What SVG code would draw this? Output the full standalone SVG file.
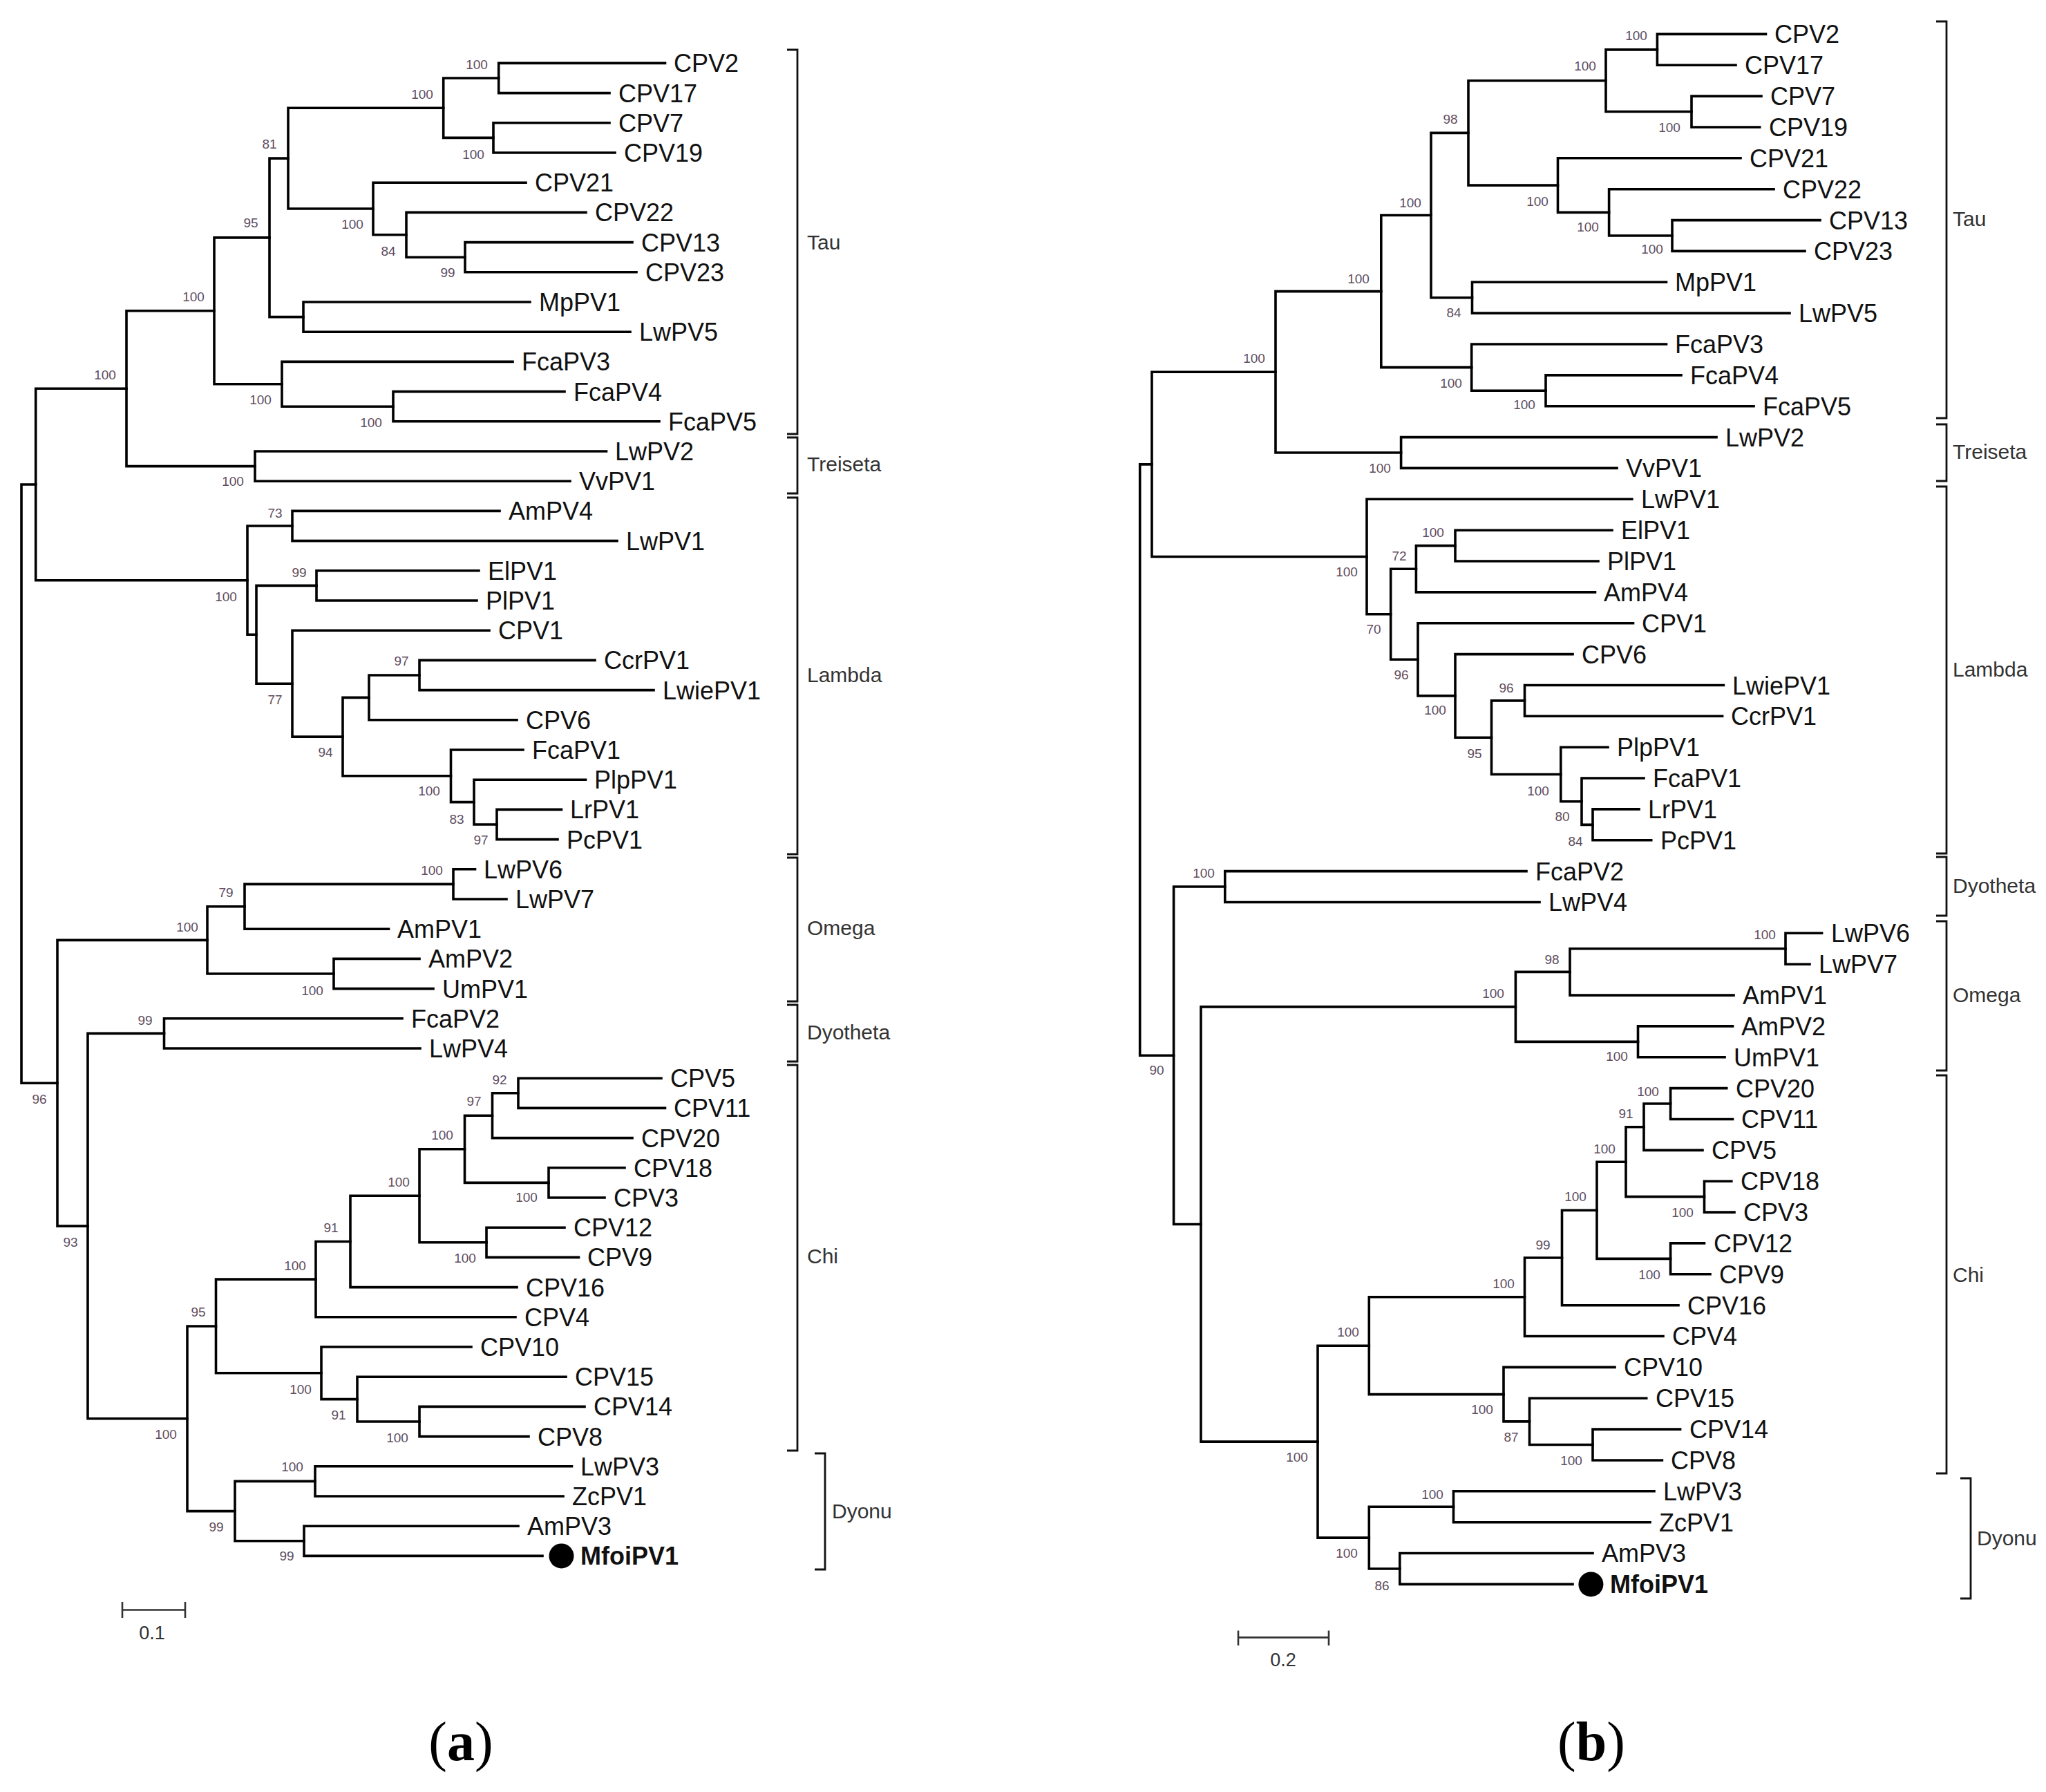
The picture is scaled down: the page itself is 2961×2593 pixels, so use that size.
<svg xmlns="http://www.w3.org/2000/svg" width="2961" height="2593" viewBox="0 0 2961 2593">
<style>
.br{fill:none;stroke:#000;stroke-width:3.6;stroke-linejoin:miter;stroke-linecap:square}
.bk{fill:none;stroke:#111;stroke-width:2.8}
.sb{fill:none;stroke:#333;stroke-width:2.6}
.lf{font-family:"Liberation Sans",Arial,sans-serif;font-size:36px;fill:#111}
.lfb{font-family:"Liberation Sans",Arial,sans-serif;font-size:36px;fill:#111;font-weight:bold}
.bs{font-family:"Liberation Sans",Arial,sans-serif;font-size:19px;fill:#5e4d5e;text-anchor:middle}
.cl{font-family:"Liberation Sans",Arial,sans-serif;font-size:30px;fill:#333}
.sc{font-family:"Liberation Sans",Arial,sans-serif;font-size:27px;fill:#333;text-anchor:middle}
.fig{font-family:"Liberation Serif","Times New Roman",serif;font-size:80px;fill:#000;text-anchor:middle}
</style>
<rect width="2961" height="2593" fill="#fff"/>

<!-- ===================== TREE (a) ===================== -->
<g id="tree-a-connectors">
<path class="br" d="M962.5 91.4 H721.7 V134.6 H882"/>
<path class="br" d="M882 177.8 H714 V221 H890"/>
<path class="br" d="M721.7 113 H641.7 V199.4 H714"/>
<path class="br" d="M915 350.6 H673 V393.8 H921"/>
<path class="br" d="M848 307.4 H588 V372.2 H673"/>
<path class="br" d="M761 264.2 H540 V339.8 H588"/>
<path class="br" d="M641.7 156.2 H417 V302 H540"/>
<path class="br" d="M767 437 H439 V480.2 H912"/>
<path class="br" d="M417 229.1 H390 V458.6 H439"/>
<path class="br" d="M817 566.6 H569 V609.8 H954"/>
<path class="br" d="M742 523.4 H408 V588.2 H569"/>
<path class="br" d="M390 343.85 H310 V555.8 H408"/>
<path class="br" d="M877.5 653 H369 V696.2 H825"/>
<path class="br" d="M310 449.8 H183 V674.6 H369"/>
<path class="br" d="M723 739.4 H423 V782.6 H893"/>
<path class="br" d="M693 825.8 H458 V869 H690"/>
<path class="br" d="M861 955.4 H607 V998.6 H946"/>
<path class="br" d="M607 977 H534 V1041.8 H748"/>
<path class="br" d="M812.5 1171.4 H719 V1214.6 H807"/>
<path class="br" d="M847.5 1128.2 H686 V1193 H719"/>
<path class="br" d="M757 1085 H652.5 V1160.6 H686"/>
<path class="br" d="M534 1009.4 H496 V1122.8 H652.5"/>
<path class="br" d="M708 912.2 H423 V1066.1 H496"/>
<path class="br" d="M458 847.4 H371 V989.2 H423"/>
<path class="br" d="M423 761 H358 V918.3 H371"/>
<path class="br" d="M183 562.2 H51.7 V839.7 H358"/>
<path class="br" d="M687.5 1257.8 H656 V1301 H733"/>
<path class="br" d="M656 1279.4 H354 V1344.2 H562.5"/>
<path class="br" d="M607 1387.4 H483 V1430.6 H627"/>
<path class="br" d="M354 1311.8 H300 V1409 H483"/>
<path class="br" d="M582 1473.8 H237.5 V1517 H608"/>
<path class="br" d="M957 1560.2 H750 V1603.4 H962.5"/>
<path class="br" d="M750 1581.8 H712.5 V1646.6 H915"/>
<path class="br" d="M904 1689.8 H794 V1733 H875"/>
<path class="br" d="M712.5 1614.2 H672.5 V1711.4 H794"/>
<path class="br" d="M817 1776.2 H704 V1819.4 H837.5"/>
<path class="br" d="M672.5 1662.8 H607 V1797.8 H704"/>
<path class="br" d="M607 1730.3 H507 V1862.6 H748"/>
<path class="br" d="M507 1796.45 H457 V1905.8 H746"/>
<path class="br" d="M846 2035.4 H607 V2078.6 H765"/>
<path class="br" d="M819 1992.2 H517 V2057 H607"/>
<path class="br" d="M682 1949 H465 V2024.6 H517"/>
<path class="br" d="M457 1851.1 H312.5 V1986.8 H465"/>
<path class="br" d="M827.5 2121.8 H456 V2165 H815"/>
<path class="br" d="M750 2208.2 H440 V2251.4 H785"/>
<path class="br" d="M456 2143.4 H340 V2229.8 H440"/>
<path class="br" d="M312.5 1919 H271 V2186.6 H340"/>
<path class="br" d="M237.5 1495.4 H127 V2052.8 H271"/>
<path class="br" d="M300 1360.4 H83 V1774.1 H127"/>
<path class="br" d="M51.7 701 H31 V1567.3 H83"/>
</g>

<g id="tree-a-leaves">
<g id="a-CPV2"><text class="lf" x="975" y="104">CPV2</text></g>
<g id="a-CPV17"><text class="lf" x="895" y="148">CPV17</text></g>
<g id="a-CPV7"><text class="lf" x="895" y="191">CPV7</text></g>
<g id="a-CPV19"><text class="lf" x="903" y="234">CPV19</text></g>
<g id="a-CPV21"><text class="lf" x="774" y="277">CPV21</text></g>
<g id="a-CPV22"><text class="lf" x="861" y="320">CPV22</text></g>
<g id="a-CPV13"><text class="lf" x="928" y="364">CPV13</text></g>
<g id="a-CPV23"><text class="lf" x="934" y="407">CPV23</text></g>
<g id="a-MpPV1"><text class="lf" x="780" y="450">MpPV1</text></g>
<g id="a-LwPV5"><text class="lf" x="925" y="493">LwPV5</text></g>
<g id="a-FcaPV3"><text class="lf" x="755" y="536">FcaPV3</text></g>
<g id="a-FcaPV4"><text class="lf" x="830" y="580">FcaPV4</text></g>
<g id="a-FcaPV5"><text class="lf" x="967" y="623">FcaPV5</text></g>
<g id="a-LwPV2"><text class="lf" x="890" y="666">LwPV2</text></g>
<g id="a-VvPV1"><text class="lf" x="838" y="709">VvPV1</text></g>
<g id="a-AmPV4"><text class="lf" x="736" y="752">AmPV4</text></g>
<g id="a-LwPV1"><text class="lf" x="906" y="796">LwPV1</text></g>
<g id="a-ElPV1"><text class="lf" x="706" y="839">ElPV1</text></g>
<g id="a-PlPV1"><text class="lf" x="703" y="882">PlPV1</text></g>
<g id="a-CPV1"><text class="lf" x="721" y="925">CPV1</text></g>
<g id="a-CcrPV1"><text class="lf" x="874" y="968">CcrPV1</text></g>
<g id="a-LwiePV1"><text class="lf" x="959" y="1012">LwiePV1</text></g>
<g id="a-CPV6"><text class="lf" x="761" y="1055">CPV6</text></g>
<g id="a-FcaPV1"><text class="lf" x="770" y="1098">FcaPV1</text></g>
<g id="a-PlpPV1"><text class="lf" x="860" y="1141">PlpPV1</text></g>
<g id="a-LrPV1"><text class="lf" x="825" y="1184">LrPV1</text></g>
<g id="a-PcPV1"><text class="lf" x="820" y="1228">PcPV1</text></g>
<g id="a-LwPV6"><text class="lf" x="700" y="1271">LwPV6</text></g>
<g id="a-LwPV7"><text class="lf" x="746" y="1314">LwPV7</text></g>
<g id="a-AmPV1"><text class="lf" x="575" y="1357">AmPV1</text></g>
<g id="a-AmPV2"><text class="lf" x="620" y="1400">AmPV2</text></g>
<g id="a-UmPV1"><text class="lf" x="640" y="1444">UmPV1</text></g>
<g id="a-FcaPV2"><text class="lf" x="595" y="1487">FcaPV2</text></g>
<g id="a-LwPV4"><text class="lf" x="621" y="1530">LwPV4</text></g>
<g id="a-CPV5"><text class="lf" x="970" y="1573">CPV5</text></g>
<g id="a-CPV11"><text class="lf" x="975" y="1616">CPV11</text></g>
<g id="a-CPV20"><text class="lf" x="928" y="1660">CPV20</text></g>
<g id="a-CPV18"><text class="lf" x="917" y="1703">CPV18</text></g>
<g id="a-CPV3"><text class="lf" x="888" y="1746">CPV3</text></g>
<g id="a-CPV12"><text class="lf" x="830" y="1789">CPV12</text></g>
<g id="a-CPV9"><text class="lf" x="850" y="1832">CPV9</text></g>
<g id="a-CPV16"><text class="lf" x="761" y="1876">CPV16</text></g>
<g id="a-CPV4"><text class="lf" x="759" y="1919">CPV4</text></g>
<g id="a-CPV10"><text class="lf" x="695" y="1962">CPV10</text></g>
<g id="a-CPV15"><text class="lf" x="832" y="2005">CPV15</text></g>
<g id="a-CPV14"><text class="lf" x="859" y="2048">CPV14</text></g>
<g id="a-CPV8"><text class="lf" x="778" y="2092">CPV8</text></g>
<g id="a-LwPV3"><text class="lf" x="840" y="2135">LwPV3</text></g>
<g id="a-ZcPV1"><text class="lf" x="828" y="2178">ZcPV1</text></g>
<g id="a-AmPV3"><text class="lf" x="763" y="2221">AmPV3</text></g>
<g id="a-MfoiPV1"><circle cx="812.5" cy="2251.4" r="18" fill="#000"/><text class="lfb" x="840" y="2264">MfoiPV1</text></g>
</g>

<g id="tree-a-bootstrap">
<text class="bs" x="690" y="100">100</text>
<text class="bs" x="685" y="230">100</text>
<text class="bs" x="611" y="143">100</text>
<text class="bs" x="648" y="401">99</text>
<text class="bs" x="562" y="370">84</text>
<text class="bs" x="510" y="331">100</text>
<text class="bs" x="390" y="215">81</text>
<text class="bs" x="363" y="329">95</text>
<text class="bs" x="537" y="618">100</text>
<text class="bs" x="377" y="585">100</text>
<text class="bs" x="280" y="436">100</text>
<text class="bs" x="152" y="549">100</text>
<text class="bs" x="337" y="703">100</text>
<text class="bs" x="398" y="749">73</text>
<text class="bs" x="433" y="835">99</text>
<text class="bs" x="327" y="870">100</text>
<text class="bs" x="398" y="1019">77</text>
<text class="bs" x="581" y="963">97</text>
<text class="bs" x="471" y="1095">94</text>
<text class="bs" x="621" y="1151">100</text>
<text class="bs" x="661" y="1192">83</text>
<text class="bs" x="696" y="1222">97</text>
<text class="bs" x="625" y="1266">100</text>
<text class="bs" x="327" y="1298">79</text>
<text class="bs" x="452" y="1440">100</text>
<text class="bs" x="271" y="1348">100</text>
<text class="bs" x="210" y="1483">99</text>
<text class="bs" x="57" y="1597">96</text>
<text class="bs" x="102" y="1804">93</text>
<text class="bs" x="723" y="1569">92</text>
<text class="bs" x="686" y="1600">97</text>
<text class="bs" x="640" y="1649">100</text>
<text class="bs" x="762" y="1739">100</text>
<text class="bs" x="577" y="1717">100</text>
<text class="bs" x="673" y="1827">100</text>
<text class="bs" x="479" y="1783">91</text>
<text class="bs" x="427" y="1838">100</text>
<text class="bs" x="287" y="1905">95</text>
<text class="bs" x="435" y="2017">100</text>
<text class="bs" x="490" y="2054">91</text>
<text class="bs" x="575" y="2087">100</text>
<text class="bs" x="240" y="2082">100</text>
<text class="bs" x="423" y="2129">100</text>
<text class="bs" x="313" y="2216">99</text>
<text class="bs" x="415" y="2258">99</text>
</g>

<g id="tree-a-clades">
<g id="a-Tau"><path class="bk" d="M1139 72 H1154 V628 H1139"/><text class="cl" x="1168" y="361">Tau</text></g>
<g id="a-Treiseta"><path class="bk" d="M1139 633 H1154 V714 H1139"/><text class="cl" x="1168" y="682">Treiseta</text></g>
<g id="a-Lambda"><path class="bk" d="M1139 720 H1154 V1236 H1139"/><text class="cl" x="1168" y="987">Lambda</text></g>
<g id="a-Omega"><path class="bk" d="M1139 1241 H1154 V1449 H1139"/><text class="cl" x="1168" y="1353">Omega</text></g>
<g id="a-Dyotheta"><path class="bk" d="M1139 1454 H1154 V1536 H1139"/><text class="cl" x="1168" y="1504">Dyotheta</text></g>
<g id="a-Chi"><path class="bk" d="M1139 1541 H1154 V2099 H1139"/><text class="cl" x="1168" y="1828">Chi</text></g>
<g id="a-Dyonu"><path class="bk" d="M1179 2103 H1194 V2271 H1179"/><text class="cl" x="1204" y="2197">Dyonu</text></g>
</g>

<g id="a-scale">
<path class="sb" d="M177 2329.5 H268 M177 2318 V2341 M268 2318 V2341"/>
<text class="sc" x="220" y="2372">0.1</text>
</g>
<text class="fig" x="667" y="2547">(<tspan font-weight="bold">a</tspan>)</text>

<!-- ===================== TREE (b) ===================== -->
<g id="tree-b-connectors">
<path class="br" d="M2555.5 49.4 H2398.4 V94.3 H2512"/>
<path class="br" d="M2549 139.1 H2448 V184 H2546.7"/>
<path class="br" d="M2398.4 71.85 H2324 V161.55 H2448"/>
<path class="br" d="M2634 318.6 H2420 V363.4 H2612"/>
<path class="br" d="M2567 273.7 H2328.6 V341 H2420"/>
<path class="br" d="M2519 228.8 H2254.5 V307.35 H2328.6"/>
<path class="br" d="M2324 116.7 H2125 V268.1 H2254.5"/>
<path class="br" d="M2411.5 408.3 H2130.5 V453.1 H2590"/>
<path class="br" d="M2125 192.4 H2071 V430.7 H2130.5"/>
<path class="br" d="M2433 542.9 H2237 V587.7 H2538"/>
<path class="br" d="M2411.5 498 H2129.7 V565.3 H2237"/>
<path class="br" d="M2071 311.55 H1998.8 V531.65 H2129.7"/>
<path class="br" d="M2484 632.6 H2027.6 V677.4 H2340"/>
<path class="br" d="M1998.8 421.6 H1846 V655 H2027.6"/>
<path class="br" d="M2333 767.2 H2106 V812 H2313"/>
<path class="br" d="M2106 789.6 H2049.4 V856.9 H2308.5"/>
<path class="br" d="M2494.4 991.5 H2206.5 V1036.3 H2492.6"/>
<path class="br" d="M2372 1170.9 H2305 V1215.8 H2389.7"/>
<path class="br" d="M2379 1126 H2289 V1193.35 H2305"/>
<path class="br" d="M2327 1081.2 H2258.8 V1159.7 H2289"/>
<path class="br" d="M2206.5 1013.9 H2158.5 V1120.45 H2258.8"/>
<path class="br" d="M2276 946.6 H2106 V1067.2 H2158.5"/>
<path class="br" d="M2363.5 901.7 H2052 V1006.9 H2106"/>
<path class="br" d="M2049.4 823.25 H2012.7 V954.3 H2052"/>
<path class="br" d="M2361.8 722.3 H1978 V888.8 H2012.7"/>
<path class="br" d="M1846 538.3 H1667 V805.55 H1978"/>
<path class="br" d="M2209 1260.6 H1772.8 V1305.5 H2228"/>
<path class="br" d="M2636.6 1350.3 H2584 V1395.2 H2619"/>
<path class="br" d="M2584 1372.75 H2272 V1440.1 H2509"/>
<path class="br" d="M2507.5 1484.9 H2370.5 V1529.8 H2496"/>
<path class="br" d="M2272 1406.4 H2193.4 V1507.35 H2370.5"/>
<path class="br" d="M2498.7 1574.6 H2417.6 V1619.5 H2507.5"/>
<path class="br" d="M2417.6 1597.05 H2379 V1664.4 H2464"/>
<path class="br" d="M2505.8 1709.2 H2466.5 V1754.1 H2510"/>
<path class="br" d="M2379 1630.7 H2353 V1731.65 H2466.5"/>
<path class="br" d="M2466.5 1798.9 H2417.6 V1843.8 H2475"/>
<path class="br" d="M2353 1681.2 H2311 V1821.35 H2417.6"/>
<path class="br" d="M2311 1751.3 H2260.5 V1888.7 H2429"/>
<path class="br" d="M2260.5 1820 H2206.5 V1933.5 H2407"/>
<path class="br" d="M2431.6 2068.1 H2305 V2113 H2405.4"/>
<path class="br" d="M2382.7 2023.2 H2213.5 V2090.55 H2305"/>
<path class="br" d="M2337 1978.4 H2176 V2056.9 H2213.5"/>
<path class="br" d="M2206.5 1876.75 H1981.3 V2017.65 H2176"/>
<path class="br" d="M2394 2157.8 H2103.5 V2202.7 H2388"/>
<path class="br" d="M2305 2247.5 H2025.8 V2292.4 H2276"/>
<path class="br" d="M2103.5 2180.25 H1981.3 V2269.95 H2025.8"/>
<path class="br" d="M1981.3 1947.2 H1907 V2225.1 H1981.3"/>
<path class="br" d="M2193.4 1456.9 H1738 V2086.15 H1907"/>
<path class="br" d="M1772.8 1283.05 H1698.6 V1771.5 H1738"/>
<path class="br" d="M1667 671.9 H1649.7 V1527.3 H1698.6"/>
</g>

<g id="tree-b-leaves">
<g id="b-CPV2"><text class="lf" x="2568" y="62">CPV2</text></g>
<g id="b-CPV17"><text class="lf" x="2525" y="107">CPV17</text></g>
<g id="b-CPV7"><text class="lf" x="2562" y="152">CPV7</text></g>
<g id="b-CPV19"><text class="lf" x="2560" y="197">CPV19</text></g>
<g id="b-CPV21"><text class="lf" x="2532" y="242">CPV21</text></g>
<g id="b-CPV22"><text class="lf" x="2580" y="287">CPV22</text></g>
<g id="b-CPV13"><text class="lf" x="2647" y="332">CPV13</text></g>
<g id="b-CPV23"><text class="lf" x="2625" y="376">CPV23</text></g>
<g id="b-MpPV1"><text class="lf" x="2424" y="421">MpPV1</text></g>
<g id="b-LwPV5"><text class="lf" x="2603" y="466">LwPV5</text></g>
<g id="b-FcaPV3"><text class="lf" x="2424" y="511">FcaPV3</text></g>
<g id="b-FcaPV4"><text class="lf" x="2446" y="556">FcaPV4</text></g>
<g id="b-FcaPV5"><text class="lf" x="2551" y="601">FcaPV5</text></g>
<g id="b-LwPV2"><text class="lf" x="2497" y="646">LwPV2</text></g>
<g id="b-VvPV1"><text class="lf" x="2353" y="690">VvPV1</text></g>
<g id="b-LwPV1"><text class="lf" x="2375" y="735">LwPV1</text></g>
<g id="b-ElPV1"><text class="lf" x="2346" y="780">ElPV1</text></g>
<g id="b-PlPV1"><text class="lf" x="2326" y="825">PlPV1</text></g>
<g id="b-AmPV4"><text class="lf" x="2321" y="870">AmPV4</text></g>
<g id="b-CPV1"><text class="lf" x="2376" y="915">CPV1</text></g>
<g id="b-CPV6"><text class="lf" x="2289" y="960">CPV6</text></g>
<g id="b-LwiePV1"><text class="lf" x="2507" y="1005">LwiePV1</text></g>
<g id="b-CcrPV1"><text class="lf" x="2505" y="1049">CcrPV1</text></g>
<g id="b-PlpPV1"><text class="lf" x="2340" y="1094">PlpPV1</text></g>
<g id="b-FcaPV1"><text class="lf" x="2392" y="1139">FcaPV1</text></g>
<g id="b-LrPV1"><text class="lf" x="2385" y="1184">LrPV1</text></g>
<g id="b-PcPV1"><text class="lf" x="2403" y="1229">PcPV1</text></g>
<g id="b-FcaPV2"><text class="lf" x="2222" y="1274">FcaPV2</text></g>
<g id="b-LwPV4"><text class="lf" x="2241" y="1318">LwPV4</text></g>
<g id="b-LwPV6"><text class="lf" x="2650" y="1363">LwPV6</text></g>
<g id="b-LwPV7"><text class="lf" x="2632" y="1408">LwPV7</text></g>
<g id="b-AmPV1"><text class="lf" x="2522" y="1453">AmPV1</text></g>
<g id="b-AmPV2"><text class="lf" x="2520" y="1498">AmPV2</text></g>
<g id="b-UmPV1"><text class="lf" x="2509" y="1543">UmPV1</text></g>
<g id="b-CPV20"><text class="lf" x="2512" y="1588">CPV20</text></g>
<g id="b-CPV11"><text class="lf" x="2520" y="1632">CPV11</text></g>
<g id="b-CPV5"><text class="lf" x="2477" y="1677">CPV5</text></g>
<g id="b-CPV18"><text class="lf" x="2519" y="1722">CPV18</text></g>
<g id="b-CPV3"><text class="lf" x="2523" y="1767">CPV3</text></g>
<g id="b-CPV12"><text class="lf" x="2480" y="1812">CPV12</text></g>
<g id="b-CPV9"><text class="lf" x="2488" y="1857">CPV9</text></g>
<g id="b-CPV16"><text class="lf" x="2442" y="1902">CPV16</text></g>
<g id="b-CPV4"><text class="lf" x="2420" y="1946">CPV4</text></g>
<g id="b-CPV10"><text class="lf" x="2350" y="1991">CPV10</text></g>
<g id="b-CPV15"><text class="lf" x="2396" y="2036">CPV15</text></g>
<g id="b-CPV14"><text class="lf" x="2445" y="2081">CPV14</text></g>
<g id="b-CPV8"><text class="lf" x="2418" y="2126">CPV8</text></g>
<g id="b-LwPV3"><text class="lf" x="2407" y="2171">LwPV3</text></g>
<g id="b-ZcPV1"><text class="lf" x="2401" y="2216">ZcPV1</text></g>
<g id="b-AmPV3"><text class="lf" x="2318" y="2260">AmPV3</text></g>
<g id="b-MfoiPV1"><circle cx="2302.4" cy="2292.4" r="18" fill="#000"/><text class="lfb" x="2330" y="2305">MfoiPV1</text></g>
</g>

<g id="tree-b-bootstrap">
<text class="bs" x="2368" y="58">100</text>
<text class="bs" x="2416" y="191">100</text>
<text class="bs" x="2294" y="102">100</text>
<text class="bs" x="2391" y="367">100</text>
<text class="bs" x="2298" y="335">100</text>
<text class="bs" x="2225" y="298">100</text>
<text class="bs" x="2099" y="179">98</text>
<text class="bs" x="2104" y="459">84</text>
<text class="bs" x="2041" y="300">100</text>
<text class="bs" x="2206" y="592">100</text>
<text class="bs" x="2100" y="561">100</text>
<text class="bs" x="1966" y="410">100</text>
<text class="bs" x="1815" y="525">100</text>
<text class="bs" x="1997" y="684">100</text>
<text class="bs" x="1949" y="834">100</text>
<text class="bs" x="2074" y="777">100</text>
<text class="bs" x="2025" y="811">72</text>
<text class="bs" x="1988" y="917">70</text>
<text class="bs" x="2028" y="983">96</text>
<text class="bs" x="2077" y="1034">100</text>
<text class="bs" x="2180" y="1002">96</text>
<text class="bs" x="2134" y="1097">95</text>
<text class="bs" x="2226" y="1151">100</text>
<text class="bs" x="2261" y="1188">80</text>
<text class="bs" x="2280" y="1224">84</text>
<text class="bs" x="1742" y="1270">100</text>
<text class="bs" x="1674" y="1555">90</text>
<text class="bs" x="2554" y="1359">100</text>
<text class="bs" x="2246" y="1395">98</text>
<text class="bs" x="2340" y="1535">100</text>
<text class="bs" x="2161" y="1444">100</text>
<text class="bs" x="2385" y="1586">100</text>
<text class="bs" x="2353" y="1618">91</text>
<text class="bs" x="2435" y="1761">100</text>
<text class="bs" x="2322" y="1669">100</text>
<text class="bs" x="2280" y="1738">100</text>
<text class="bs" x="2233" y="1808">99</text>
<text class="bs" x="2387" y="1851">100</text>
<text class="bs" x="2176" y="1864">100</text>
<text class="bs" x="1951" y="1934">100</text>
<text class="bs" x="2145" y="2046">100</text>
<text class="bs" x="2187" y="2086">87</text>
<text class="bs" x="2274" y="2120">100</text>
<text class="bs" x="1877" y="2115">100</text>
<text class="bs" x="2073" y="2169">100</text>
<text class="bs" x="1949" y="2254">100</text>
<text class="bs" x="2000" y="2301">86</text>
</g>

<g id="tree-b-clades">
<g id="b-Tau"><path class="bk" d="M2802 31 H2817 V605 H2802"/><text class="cl" x="2826" y="327">Tau</text></g>
<g id="b-Treiseta"><path class="bk" d="M2802 614 H2817 V696 H2802"/><text class="cl" x="2826" y="664">Treiseta</text></g>
<g id="b-Lambda"><path class="bk" d="M2802 704 H2817 V1235 H2802"/><text class="cl" x="2826" y="979">Lambda</text></g>
<g id="b-Dyotheta"><path class="bk" d="M2802 1240 H2817 V1325 H2802"/><text class="cl" x="2826" y="1292">Dyotheta</text></g>
<g id="b-Omega"><path class="bk" d="M2802 1333 H2817 V1549 H2802"/><text class="cl" x="2826" y="1450">Omega</text></g>
<g id="b-Chi"><path class="bk" d="M2802 1556 H2817 V2132 H2802"/><text class="cl" x="2826" y="1855">Chi</text></g>
<g id="b-Dyonu"><path class="bk" d="M2837 2139 H2852 V2313 H2837"/><text class="cl" x="2861" y="2236">Dyonu</text></g>
</g>

<g id="b-scale">
<path class="sb" d="M1792 2369.4 H1923 M1792 2359.5 V2381 M1923 2359.5 V2381"/>
<text class="sc" x="1857" y="2411">0.2</text>
</g>
<text class="fig" x="2303" y="2547">(<tspan font-weight="bold">b</tspan>)</text>
</svg>
